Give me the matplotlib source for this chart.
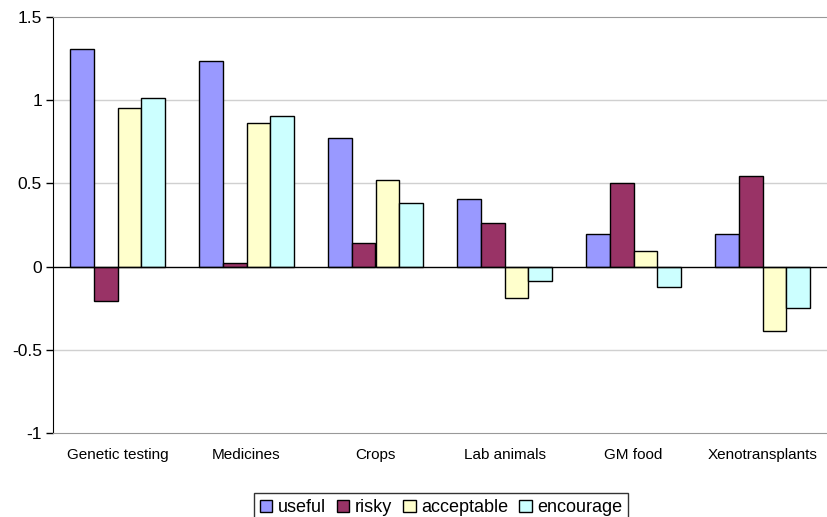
import matplotlib.pyplot as plt
import numpy as np

plt.rcParams["font.family"] = ["Liberation Sans", "DejaVu Sans"]

CATEGORIES = ["Genetic testing", "Medicines", "Crops", "Lab animals", "GM food", "Xenotransplants"]
SERIES = ["useful", "risky", "acceptable", "encourage"]
USEFUL = [1.31, 1.235, 0.77, 0.407, 0.194, 0.194]
RISKY = [-0.208, 0.022, 0.143, 0.265, 0.501, 0.545]
ACCEPTABLE = [0.954, 0.862, 0.519, -0.188, 0.094, -0.387]
ENCOURAGE = [1.014, 0.904, 0.383, -0.086, -0.122, -0.248]
Y_TICKS = [-1, -0.5, 0, 0.5, 1, 1.5]
Y_TICK_LABELS = ["-1", "-0.5", "0", "0.5", "1", "1.5"]

COLORS = ["#9999FF", "#993366", "#FFFFCC", "#CCFFFF"]


def main():
    fig = plt.figure(figsize=(8.27, 5.17), dpi=100)
    ax = fig.add_axes([53 / 827, 1 - 433 / 517, 774 / 827, 416 / 517])

    x = np.arange(len(CATEGORIES))
    group = 1 / 1.35
    width = group / len(SERIES)
    values = [USEFUL, RISKY, ACCEPTABLE, ENCOURAGE]
    for i, (name, vals) in enumerate(zip(SERIES, values)):
        offset = -group / 2 + width * (i + 0.5)
        ax.bar(x + offset, vals, width, color=COLORS[i], edgecolor="black",
               linewidth=1.0, label=name, zorder=3)

    ax.set_xlim(-0.5, len(CATEGORIES) - 0.5)
    ax.set_ylim(-1, 1.5)
    ax.set_yticks(Y_TICKS)
    ax.set_yticklabels(Y_TICK_LABELS, fontsize=12.5)
    ax.set_xticks(x)
    ax.set_xticklabels(CATEGORIES, fontsize=11)
    ax.tick_params(axis="x", length=0, pad=11)
    ax.tick_params(axis="y", length=5, width=1, direction="out", pad=3)

    for y in [-0.5, 0.5, 1]:
        ax.axhline(y, color="#D0D0D0", linewidth=1, zorder=1)
    ax.axhline(0, color="black", linewidth=1, zorder=4)

    ax.spines["right"].set_visible(False)
    ax.spines["top"].set_color("#999999")
    ax.spines["bottom"].set_color("#999999")
    ax.spines["left"].set_color("black")

    handles, labels = ax.get_legend_handles_labels()
    leg = fig.legend(handles, labels, loc="upper center", ncol=4,
                     bbox_to_anchor=(441 / 827, 1 - 484 / 517), fontsize=13,
                     frameon=True, fancybox=False, handlelength=0.7,
                     handleheight=0.7, handletextpad=0.3, columnspacing=0.6,
                     borderpad=0.35)
    leg.get_frame().set_edgecolor("black")
    leg.get_frame().set_linewidth(1)

    fig.savefig("out.png", dpi=100)


if __name__ == "__main__":
    main()
